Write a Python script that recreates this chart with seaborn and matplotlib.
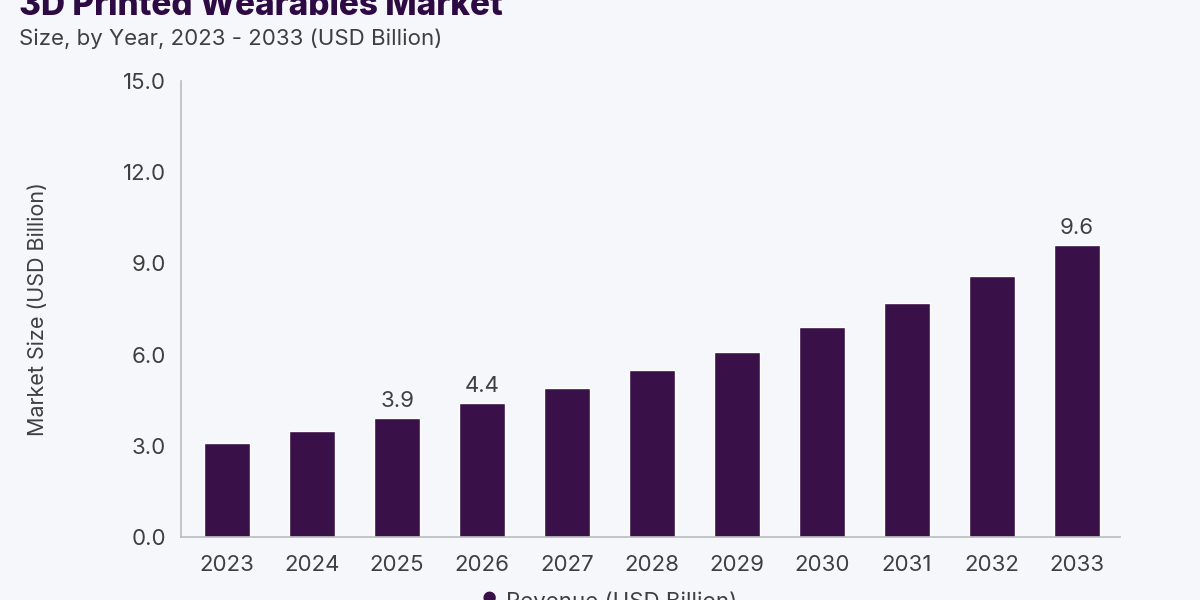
import matplotlib
matplotlib.use("Agg")
import matplotlib.pyplot as plt
import seaborn as sns
import pandas as pd

# --- chart data ---
years = ["2023", "2024", "2025", "2026", "2027", "2028", "2029", "2030", "2031", "2032", "2033"]
revenue = [3.1, 3.5, 3.9, 4.4, 4.9, 5.5, 6.1, 6.9, 7.7, 8.6, 9.6]
labelled_years = ["2025", "2026", "2033"]
y_ticks = [0.0, 3.0, 6.0, 9.0, 12.0, 15.0]

title = "3D Printed Wearables Market"
subtitle = "Size, by Year, 2023 - 2033 (USD Billion)"
y_label = "Market Size (USD Billion)"
legend_label = "Revenue (USD Billion)"

bg = "#f5f7fb"
bar_color = "#3a1049"
text_grey = "#3f3f3f"

df = pd.DataFrame({"Year": years, "Revenue": revenue})

sns.set_style("white")
plt.rcParams["font.family"] = ["Inter", "DejaVu Sans"]

fig = plt.figure(figsize=(12, 6), dpi=100, facecolor=bg)
ax = fig.add_axes([0.151, 0.105, 0.782, 0.76])
ax.set_facecolor(bg)

sns.barplot(data=df, x="Year", y="Revenue", color=bar_color, width=0.54,
            saturation=1, ax=ax)

# value labels on selected bars
for i, (yr, val) in enumerate(zip(years, revenue)):
    if yr in labelled_years:
        ax.text(i, val + 0.25, f"{val:.1f}", ha="center", va="bottom",
                fontsize=16, color=text_grey)

ax.set_ylim(0, 15)
ax.set_xlim(-0.54, 10.5)
ax.set_yticks(y_ticks)
ax.set_yticklabels([f"{t:.1f}" for t in y_ticks])
ax.tick_params(axis="y", length=5, color="#aaaaaa", labelsize=16,
               labelcolor=text_grey, pad=6)
ax.tick_params(axis="x", length=0, labelsize=16, labelcolor=text_grey, pad=13)
ax.set_xlabel("")
ax.set_ylabel(y_label, fontsize=15.5, color=text_grey, labelpad=54)

for side in ["top", "right"]:
    ax.spines[side].set_visible(False)
for side in ["left", "bottom"]:
    ax.spines[side].set_color("#bbbbbb")
    ax.spines[side].set_linewidth(1.2)

# titles (partly cropped at top, like the reference)
fig.text(0.016, 0.99, title, fontsize=24, fontweight="heavy",
         color="#2e0a45", ha="left", va="center")
fig.text(0.016, 0.935, subtitle, fontsize=16, color=text_grey,
         ha="left", va="center")

# legend (partly cropped at bottom)
fig.text(0.408, 0.0, "\u25cf", fontsize=12, color=bar_color, ha="center", va="center")
fig.text(0.422, -0.003, legend_label, fontsize=16, color=text_grey,
         ha="left", va="center")

fig.savefig("out.png", dpi=100, facecolor=bg)
